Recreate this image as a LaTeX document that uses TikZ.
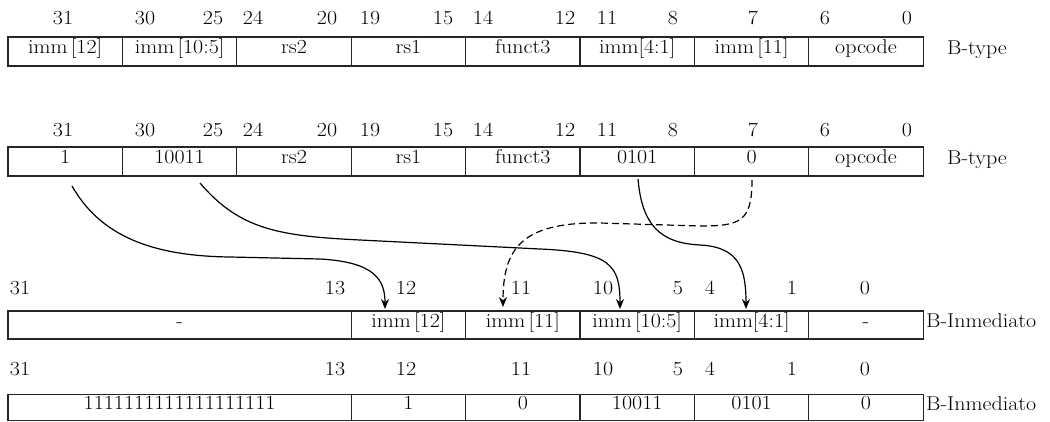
\documentclass[tikz,border=0pt]{standalone}
\usepackage{fontspec}
\setmainfont[FakeStretch=1.1]{Latin Modern Roman}
\usetikzlibrary{arrows.meta}
\newcommand\bitfont{\fontsize{20}{23}\selectfont}
\tikzset{
  cell/.style={draw=black!85, line width=1.1pt, minimum width=114.4pt, inner sep=0pt, outer sep=0pt,
    font=\bitfont, text height=0.7em, text depth=0.22em},
  bitlbl/.style={inner sep=0pt, font=\bitfont, text height=0.7em, text depth=0.2em},
  typelbl/.style={inner sep=0pt, font=\bitfont, text height=0.7em, text depth=0.22em},
  link/.style={line width=1.2pt, -{Stealth[length=10pt,width=8pt]}},
  dlink/.style={link, dash pattern=on 7pt off 4pt}
}
\begin{document}
\begin{tikzpicture}[x=1pt,y=-1pt]
\useasboundingbox (0,0) rectangle (1050,421);
% ---------- Row 1 ----------
\foreach \t/\x [count=\i] in {31/63,30/145,25/213,24/253,20/327,19/370,15/443,14/483,12/565,11/607,8/673,7/753,6/825,0/907}
  \node[bitlbl] (la\i) at (\x,22) {\t};
\node[cell, minimum height=29pt] (a1) at (65.2,51.5) {imm\,[12]};
\node[cell, minimum height=29pt] (a2) at (179.6,51.5) {imm\,[10:5]};
\node[cell, minimum height=29pt] (a3) at (294,51.5) {rs2};
\node[cell, minimum height=29pt] (a4) at (408.4,51.5) {rs1};
\node[cell, minimum height=29pt] (a5) at (522.8,51.5) {funct3};
\node[cell, minimum height=29pt] (a6) at (637.2,51.5) {imm[4:1]};
\node[cell, minimum height=29pt] (a7) at (751.6,51.5) {imm\,[11]};
\node[cell, minimum height=29pt] (a8) at (866,51.5) {opcode};
\node[typelbl] (ta) at (977,52) {B-type};
% ---------- Row 2 ----------
\foreach \t/\x [count=\i] in {31/63,30/145,25/213,24/253,20/327,19/370,15/443,14/483,12/565,11/607,8/673,7/753,6/825,0/907}
  \node[bitlbl] (lb\i) at (\x,134) {\t};
\node[cell, minimum height=29pt] (b1) at (65.2,161.5) {1};
\node[cell, minimum height=29pt] (b2) at (179.6,161.5) {10011};
\node[cell, minimum height=29pt] (b3) at (294,161.5) {rs2};
\node[cell, minimum height=29pt] (b4) at (408.4,161.5) {rs1};
\node[cell, minimum height=29pt] (b5) at (522.8,161.5) {funct3};
\node[cell, minimum height=29pt] (b6) at (637.2,161.5) {0101};
\node[cell, minimum height=29pt] (b7) at (751.6,161.5) {0};
\node[cell, minimum height=29pt] (b8) at (866,161.5) {opcode};
\node[typelbl] (tb) at (977,162) {B-type};
% ---------- Row 3 ----------
\foreach \t/\x [count=\i] in {31/20,13/335,12/406,11/521,10/603,5/678,4/710,1/792,0/865}
  \node[bitlbl] (lc\i) at (\x,292) {\t};
\node[cell, minimum height=28pt, minimum width=343.2pt] (c1) at (179.6,325) {-};
\node[cell, minimum height=28pt] (c2) at (408.4,325) {imm\,[12]};
\node[cell, minimum height=28pt] (c3) at (522.8,325) {imm\,[11]};
\node[cell, minimum height=28pt] (c4) at (637.2,325) {imm\,[10:5]};
\node[cell, minimum height=28pt] (c5) at (751.6,325) {imm[4:1]};
\node[cell, minimum height=28pt] (c6) at (866,325) {-};
\node[typelbl, anchor=west] (tc) at (926,325) {B-Inmediato};
% ---------- Row 4 ----------
\foreach \t/\x [count=\i] in {31/20,13/335,12/406,11/521,10/603,5/678,4/710,1/792,0/865}
  \node[bitlbl] (ld\i) at (\x,373) {\t};
\node[cell, minimum height=26pt, minimum width=343.2pt] (d1) at (179.6,407.5) {1111111111111111111};
\node[cell, minimum height=26pt] (d2) at (408.4,407.5) {1};
\node[cell, minimum height=26pt] (d3) at (522.8,407.5) {0};
\node[cell, minimum height=26pt] (d4) at (637.2,407.5) {10011};
\node[cell, minimum height=26pt] (d5) at (751.6,407.5) {0101};
\node[cell, minimum height=26pt] (d6) at (866,407.5) {0};
\node[typelbl, anchor=west] (td) at (926,408) {B-Inmediato};
% ---------- Connectors ----------
\coordinate (s1) at (72,186);
\coordinate (e1) at (385,309);
\coordinate (s2) at (200,183);
\coordinate (e2) at (620,309);
\coordinate (s3) at (638,179);
\coordinate (e3) at (746,309);
\coordinate (s4) at (752,180);
\coordinate (e4) at (503,307);
\draw[link] (s1) .. controls (100,235) and (150,256) .. (230,257) -- (320,259) .. controls (375,262) and (385,280) .. (e1);
\draw[link] (s2) .. controls (240,230) and (280,236) .. (360,240) -- (540,249) .. controls (610,252) and (620,265) .. (e2);
\draw[link] (s3) .. controls (642,225) and (660,243) .. (700,245) .. controls (740,247) and (746,270) .. (e3);
\draw[dlink] (s4) .. controls (752,222) and (740,226) .. (700,226) -- (600,223) .. controls (520,222) and (503,250) .. (e4);
\end{tikzpicture}
\end{document}
